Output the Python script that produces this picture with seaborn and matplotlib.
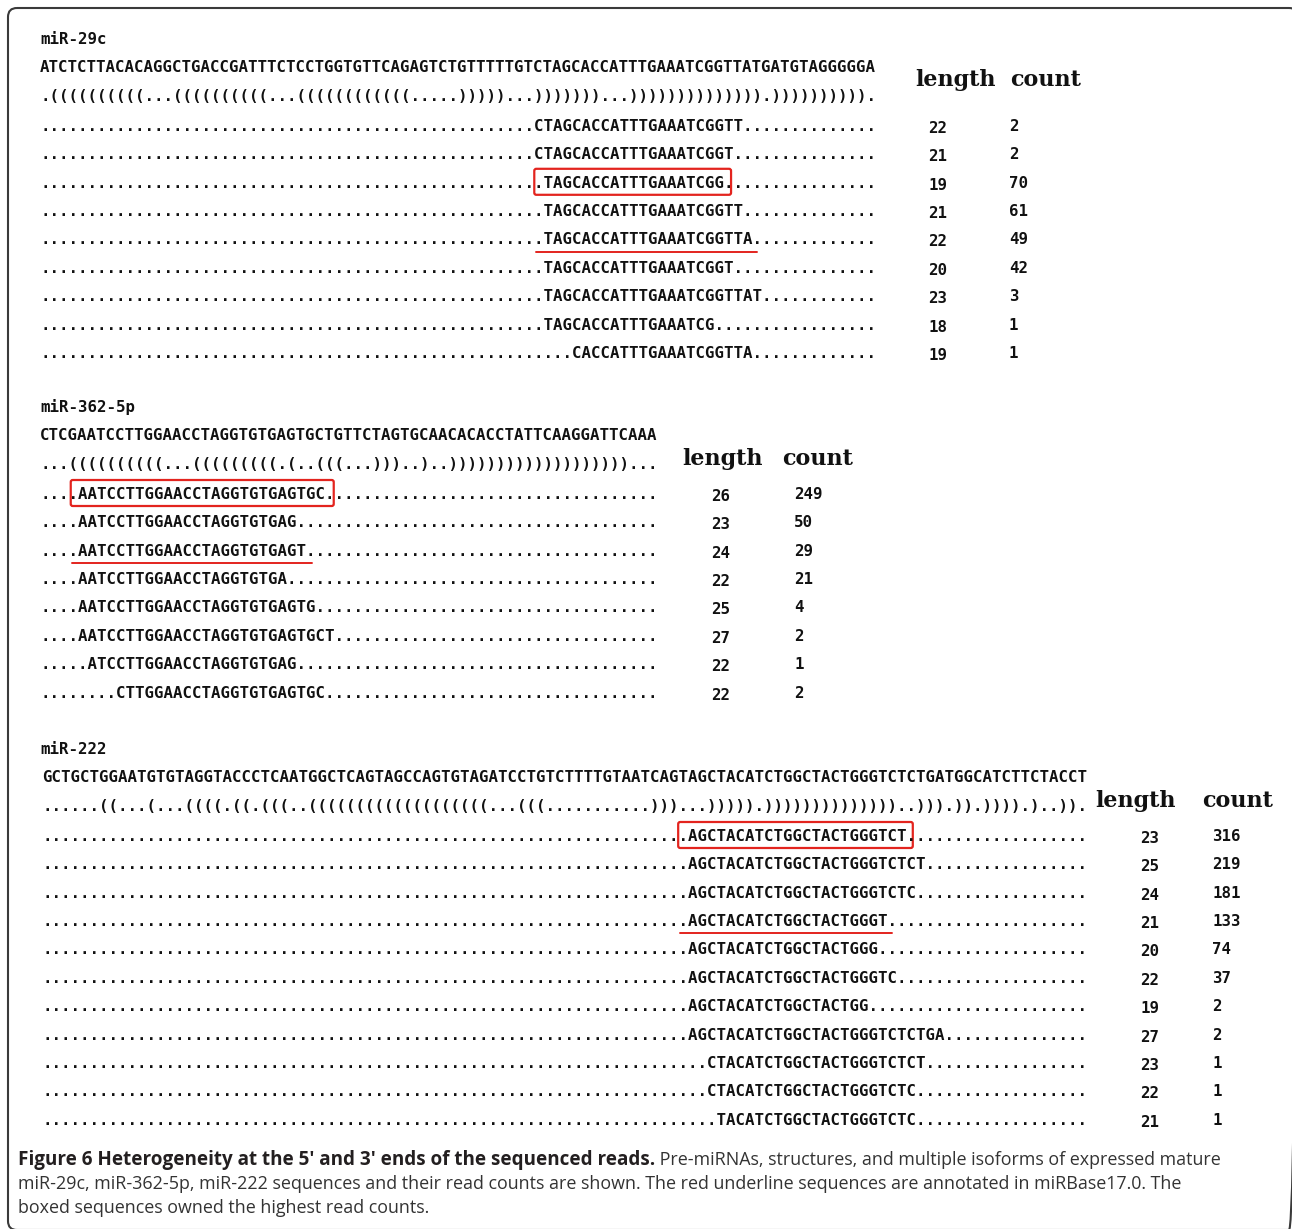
import matplotlib
matplotlib.use("Agg")
import matplotlib.pyplot as plt
from matplotlib.patches import FancyBboxPatch
import seaborn as sns

# ── Data: precursors, structures, reads, lengths, counts ─────────────────────
MIR29C_NAME = "miR-29c"
MIR29C_SEQ = "ATCTCTTACACAGGCTGACCGATTTCTCCTGGTGTTCAGAGTCTGTTTTTGTCTAGCACCATTTGAAATCGGTTATGATGTAGGGGGA"
MIR29C_STRUCT = ("." "((((((((((" "..." "((((((((((" "..." "((((((((((((" "....." ")))))"
                 "..." ")))))))" "..." "))))))))))))))" "." "))))))))))" ".")
MIR29C_READS = ["CTAGCACCATTTGAAATCGGTT", "CTAGCACCATTTGAAATCGGT", "TAGCACCATTTGAAATCGG",
                "TAGCACCATTTGAAATCGGTT", "TAGCACCATTTGAAATCGGTTA", "TAGCACCATTTGAAATCGGT",
                "TAGCACCATTTGAAATCGGTTAT", "TAGCACCATTTGAAATCG", "CACCATTTGAAATCGGTTA"]
MIR29C_LENGTH = [22, 21, 19, 21, 22, 20, 23, 18, 19]
MIR29C_COUNT = [2, 2, 70, 61, 49, 42, 3, 1, 1]
MIR29C_BOXED = 2
MIR29C_UNDERLINED = 4

MIR362_NAME = "miR-362-5p"
MIR362_SEQ = "CTCGAATCCTTGGAACCTAGGTGTGAGTGCTGTTCTAGTGCAACACACCTATTCAAGGATTCAAA"
MIR362_STRUCT = ("..." "((((((((((" "..." "(((((((((" "." "(" ".." "(((" "..." ")))" ".." ")"
                 ".." ")))))))))))))))))))" "...")
MIR362_READS = ["AATCCTTGGAACCTAGGTGTGAGTGC", "AATCCTTGGAACCTAGGTGTGAG", "AATCCTTGGAACCTAGGTGTGAGT",
                "AATCCTTGGAACCTAGGTGTGA", "AATCCTTGGAACCTAGGTGTGAGTG", "AATCCTTGGAACCTAGGTGTGAGTGCT",
                "ATCCTTGGAACCTAGGTGTGAG", "CTTGGAACCTAGGTGTGAGTGC"]
MIR362_LENGTH = [26, 23, 24, 22, 25, 27, 22, 22]
MIR362_COUNT = [249, 50, 29, 21, 4, 2, 1, 2]
MIR362_BOXED = 0
MIR362_UNDERLINED = 2

MIR222_NAME = "miR-222"
MIR222_SEQ = ("GCTGCTGGAATGTGTAGGTACCCTCAATGGCTCAGTAGCCAGTGTAGATCCTGTCTTTTGTAATCAGTAGCTACATCTGG"
              "CTACTGGGTCTCTGATGGCATCTTCTACCT")
MIR222_STRUCT = ("......" "((" "..." "(" "..." "((((" "." "((" "." "(((" ".." "(((((((((((((((((((" "..."
                 "(((" "..........." ")))" "..." ")))))" "." "))))))))))))))" ".." ")))" "." "))" "."
                 "))))" "." ")" ".." "))" ".")
MIR222_READS = ["AGCTACATCTGGCTACTGGGTCT", "AGCTACATCTGGCTACTGGGTCTCT", "AGCTACATCTGGCTACTGGGTCTC",
                "AGCTACATCTGGCTACTGGGT", "AGCTACATCTGGCTACTGGG", "AGCTACATCTGGCTACTGGGTC",
                "AGCTACATCTGGCTACTGG", "AGCTACATCTGGCTACTGGGTCTCTGA", "CTACATCTGGCTACTGGGTCTCT",
                "CTACATCTGGCTACTGGGTCTC", "TACATCTGGCTACTGGGTCTC"]
MIR222_LENGTH = [23, 25, 24, 21, 20, 22, 19, 27, 23, 22, 21]
MIR222_COUNT = [316, 219, 181, 133, 74, 37, 2, 2, 1, 1, 1]
MIR222_BOXED = 0
MIR222_UNDERLINED = 3

HEADER_WORDS = ["length", "count"]

CAPTION_BOLD = "Figure 6 Heterogeneity at the 5\u2032 and 3\u2032 ends of the sequenced reads."
CAPTION_LINES = [
    " Pre-miRNAs, structures, and multiple isoforms of expressed mature",
    "miR-29c, miR-362-5p, miR-222 sequences and their read counts are shown. The red underline sequences are annotated in miRBase17.0. The",
    "boxed sequences owned the highest read counts.",
]

# ── Layout (pixels) ──────────────────────────────────────────────────────────
W, H = 1292, 1229
PITCH = 9.46          # monospace character advance in px
ROW = 28.4
MONO = "DejaVu Sans Mono"
MONO_SIZE = PITCH / 0.602 * 72 / 100
RED = "#e3241e"
INK = "#111111"

# (name, seq, struct, reads, lengths, counts, boxed, underlined,
#  x0, label_y, header_x (length, count), header_y, length_x, count_x)
blocks = [
    (MIR29C_NAME, MIR29C_SEQ, MIR29C_STRUCT, MIR29C_READS, MIR29C_LENGTH, MIR29C_COUNT,
     MIR29C_BOXED, MIR29C_UNDERLINED, 40, 38, (915, 1010), 80, 938, 1009),
    (MIR362_NAME, MIR362_SEQ, MIR362_STRUCT, MIR362_READS, MIR362_LENGTH, MIR362_COUNT,
     MIR362_BOXED, MIR362_UNDERLINED, 40, 406, (682, 782), 459, 721, 794),
    (MIR222_NAME, MIR222_SEQ, MIR222_STRUCT, MIR222_READS, MIR222_LENGTH, MIR222_COUNT,
     MIR222_BOXED, MIR222_UNDERLINED, 42, 748, (1095, 1202), 801, 1150, 1212),
]

sns.set_theme(style="white")
plt.rcParams["font.family"] = ["DejaVu Sans", "DejaVu Sans Mono"]

fig = plt.figure(figsize=(W / 100, H / 100), dpi=100)
ax = fig.add_axes([0, 0, 1, 1])
ax.set_xlim(0, W)
ax.set_ylim(H, 0)
ax.axis("off")


def mono(x, y, s, ha="left"):
    # y is the vertical centre of capital letters
    ax.text(x, y + 5.8, s, family=MONO, fontsize=MONO_SIZE, fontweight="bold",
            ha=ha, va="baseline", color=INK)


for (name, seq, struct, reads, lengths, counts, boxed, underlined,
     x0, label_y, header_x, header_y, length_x, count_x) in blocks:
    n = len(seq)
    mono(40, label_y, name)
    mono(x0, label_y + 28.5, seq)
    mono(x0, label_y + 57, struct)
    for word, hx in zip(HEADER_WORDS, header_x):
        ax.text(hx, header_y + 6, word, family="DejaVu Serif", fontsize=16.0,
                fontweight="bold", ha="left", va="baseline", color=INK)
    for i, (read, ln, ct) in enumerate(zip(reads, lengths, counts)):
        y = label_y + 87 + i * ROW
        off = seq.find(read)
        line = "." * off + read + "." * (n - off - len(read))
        mono(x0, y, line)
        mono(length_x, y + 2, str(ln), ha="center")
        mono(count_x, y, str(ct))
        if i == boxed:
            bx0 = x0 + (off - 0.75) * PITCH
            bx1 = x0 + (off + len(read) + 1.05) * PITCH
            ax.add_patch(FancyBboxPatch((bx0, y - 13), bx1 - bx0, 26,
                                        boxstyle="round,pad=0,rounding_size=2",
                                        fc="none", ec=RED, lw=1.6))
        if i == underlined:
            ux0 = x0 + (off - 0.6) * PITCH
            ux1 = x0 + (off + len(read) + 0.8) * PITCH
            ax.plot([ux0, ux1], [y + 13, y + 13], color=RED, lw=1.4)

# ── Outer frame ──────────────────────────────────────────────────────────────
ax.add_patch(FancyBboxPatch((8, 8), 1290, 1222,
                            boxstyle="round,pad=0,rounding_size=9",
                            fc="none", ec="#3a3a3a", lw=1.5))

# ── Caption ──────────────────────────────────────────────────────────────────
cap_font = ["Open Sans", "DejaVu Sans"]
t = ax.text(18, 1165, CAPTION_BOLD, family=cap_font, fontsize=13.6, fontweight="bold",
            ha="left", va="baseline", color="#231f20")
fig.canvas.draw()
bb = t.get_window_extent()
x_end = ax.transData.inverted().transform((bb.x1, bb.y0))[0]
ax.text(x_end, 1165, CAPTION_LINES[0], family=cap_font, fontsize=12.9,
        ha="left", va="baseline", color="#333333")
for k, line in enumerate(CAPTION_LINES[1:]):
    ax.text(18, 1189 + k * 24, line, family=cap_font, fontsize=12.9,
            ha="left", va="baseline", color="#333333")

fig.savefig("out.png", dpi=100, facecolor="white")
